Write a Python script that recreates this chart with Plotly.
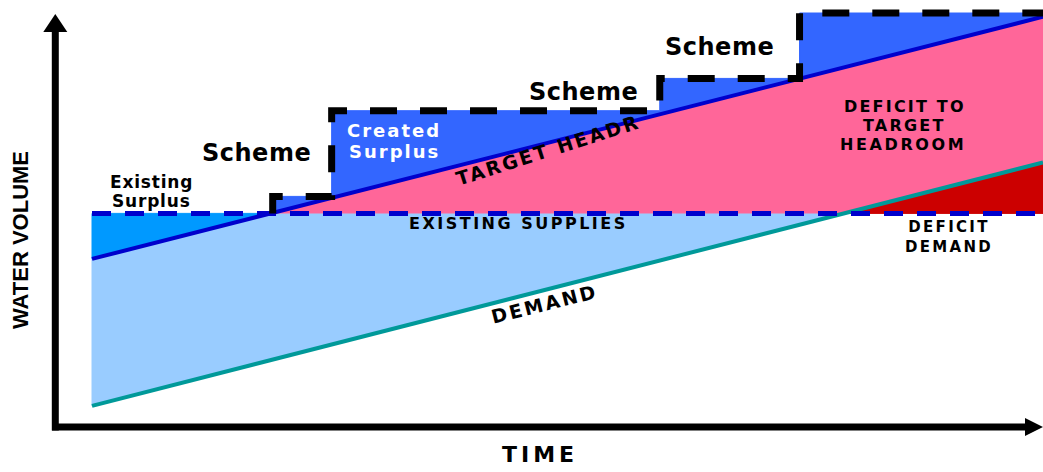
import plotly.graph_objects as go

# ---------------- data (schematic units: time 0-100, volume 0-100) ----------------
time_span = [0.0, 100.0]
demand = [5.1, 63.9]                 # demand line at start / end of period
target_headroom = [40.6, 99.1]       # demand + target headroom line
existing_supplies = 51.6             # flat existing supplies
scheme_start = [19.0, 25.2, 59.7, 74.4]
scheme_level = [55.7, 76.4, 84.2, 100.0]

# ---------------- page geometry ----------------
W, H = 1043, 472
T_LEFT_PX, PX_PER_T = 92.0, 9.51      # time 0 sits at pixel 92
V_ZERO_PX, PX_PER_V = 427.0, 4.14     # volume 0 sits at pixel row 427

x_range = [-T_LEFT_PX / PX_PER_T, (W - T_LEFT_PX) / PX_PER_T]
y_range = [(V_ZERO_PX - H) / PX_PER_V, V_ZERO_PX / PX_PER_V]


def line_at(t, ends):
    t0, t1 = time_span
    return ends[0] + (ends[1] - ends[0]) * (t - t0) / (t1 - t0)


def crossing(level, ends):
    t0, t1 = time_span
    return t0 + (level - ends[0]) * (t1 - t0) / (ends[1] - ends[0])


S = existing_supplies
t0, t1 = time_span
t_s = crossing(S, target_headroom)   # target meets supplies
t_d = crossing(S, demand)            # demand meets supplies

fig = go.Figure()


def poly(xs, ys, color):
    fig.add_trace(go.Scatter(x=xs, y=ys, mode="lines", fill="toself", fillcolor=color,
                             line=dict(color=color, width=1), hoverinfo="skip", showlegend=False))


# light blue: supplies used by demand
poly([t0, t0, t_s, t_d], [demand[0], target_headroom[0], S, S], "#99CCFF")
# existing surplus
poly([t0, t0, t_s], [target_headroom[0], S, S], "#0099FF")
# deficit to target headroom
poly([t_s, t1, t1, t_d], [S, target_headroom[1], demand[1], S], "#FF6699")
# deficit demand
poly([t_d, t1, t1], [S, S, demand[1]], "#CC0000")

# created surplus by schemes (step function above target line)
sx, sy = [scheme_start[0]], [line_at(scheme_start[0], target_headroom)]
for i, st in enumerate(scheme_start):
    if i > 0:
        sx.append(st); sy.append(scheme_level[i - 1])
    sx.append(st); sy.append(scheme_level[i])
sx.append(t1); sy.append(scheme_level[-1])
poly(sx + [t1], sy + [target_headroom[1]], "#3366FF")

# target headroom line
fig.add_trace(go.Scatter(x=time_span, y=target_headroom, mode="lines",
                         line=dict(color="#0000CC", width=4), hoverinfo="skip", showlegend=False))
# demand line
fig.add_trace(go.Scatter(x=time_span, y=demand, mode="lines",
                         line=dict(color="#009999", width=4), hoverinfo="skip", showlegend=False))
# existing supplies dashed
fig.add_trace(go.Scatter(x=time_span, y=[S, S], mode="lines",
                         line=dict(color="#0000CC", width=5, dash="19px,14px"),
                         hoverinfo="skip", showlegend=False))
# scheme outline (black dashed)
fig.add_trace(go.Scatter(x=sx, y=[S] + sy[1:], mode="lines",
                         line=dict(color="black", width=7, dash="27px,23px"),
                         hoverinfo="skip", showlegend=False))


# ---------------- axes arrows ----------------
def P(x, y):
    return x / W, 1 - y / H


shapes = []
ax_x = 55.3
shapes.append(dict(type="line", xref="paper", yref="paper",
                   x0=P(ax_x, 0)[0], x1=P(ax_x, 0)[0], y0=P(0, 430.5)[1], y1=P(0, 28)[1],
                   line=dict(color="black", width=7)))
shapes.append(dict(type="line", xref="paper", yref="paper",
                   x0=P(52, 0)[0], x1=P(1030, 0)[0], y0=P(0, 427)[1], y1=P(0, 427)[1],
                   line=dict(color="black", width=7)))


def tri(pts):
    d = "M " + " L ".join(f"{P(x, y)[0]:.5f},{P(x, y)[1]:.5f}" for x, y in pts) + " Z"
    return dict(type="path", xref="paper", yref="paper", path=d,
                fillcolor="black", line=dict(color="black", width=0))


shapes.append(tri([(ax_x, 14), (43.3, 32), (67.3, 32)]))
shapes.append(tri([(1043, 427), (1025, 418), (1025, 436)]))


# ---------------- text ----------------
def label(text, x, y, size, spacing=0.0, angle=0, color="black", family="DejaVu Sans"):
    t = f'<span style="letter-spacing:{spacing}px">{text}</span>' if spacing else text
    px, py = P(x, y)
    return dict(text=t, x=px, y=py, xref="paper", yref="paper", showarrow=False,
                textangle=angle, xanchor="center", yanchor="middle",
                font=dict(family=family, size=size, color=color, weight="bold"))


ann = [
    label("Existing", 151, 182, 17, 0.8),
    label("Surplus", 151, 201, 17, 0.8),
    label("Scheme", 256, 153, 24, 0.5),
    label("Scheme", 583, 92, 24, 0.5),
    label("Scheme", 719, 47, 24, 0.5),
    label("Created", 394, 130.5, 18, 2, color="white"),
    label("Surplus", 394, 151.5, 18, 2, color="white"),
    label("EXISTING SUPPLIES", 518, 223.5, 16, 2.5),
    label("DEFICIT TO", 905, 107, 16, 2.2),
    label("TARGET", 904, 125.5, 16, 2.2),
    label("HEADROOM", 903, 144, 16, 2.6),
    label("DEFICIT<br>DEMAND", 949, 237, 15, 2.3),
    label("DEMAND", 544, 304, 19, 2.5, angle=-14),
    label("TARGET HEADR", 548, 150, 19, 2.4, angle=-17.7),
    label("TIME", 540, 454.5, 22, 4),
    label("WATER VOLUME", 20, 240, 22, 0, angle=-90, family="Liberation Sans"),
]

fig.update_layout(
    width=W, height=H, margin=dict(l=0, r=0, t=0, b=0),
    paper_bgcolor="white", plot_bgcolor="white",
    xaxis=dict(range=x_range, visible=False, fixedrange=True),
    yaxis=dict(range=y_range, visible=False, fixedrange=True),
    shapes=shapes, annotations=ann, showlegend=False,
)

fig.write_html("out.html")
